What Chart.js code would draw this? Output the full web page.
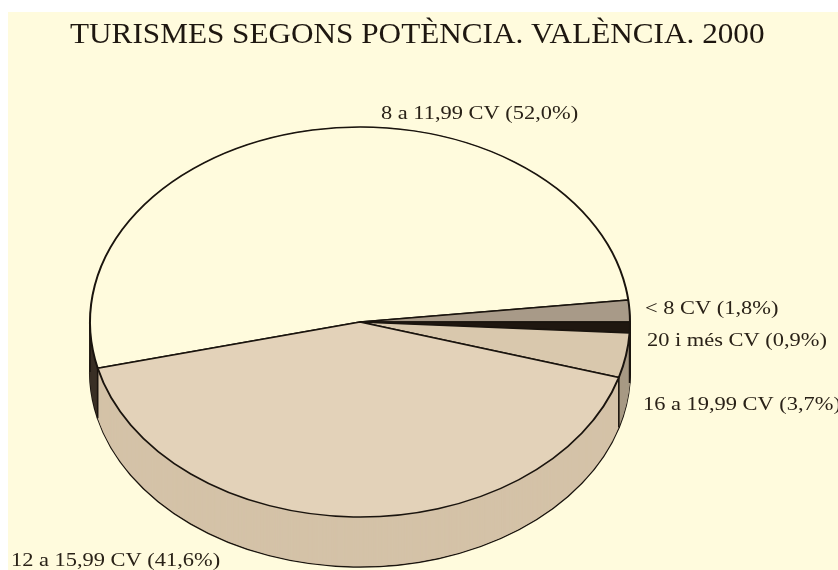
<!DOCTYPE html>
<html><head><meta charset="utf-8">
<style>
html,body{margin:0;padding:0;background:#fff;}
#wrap{position:absolute;left:8px;top:12px;width:830px;height:558px;background:#fffbdd;overflow:hidden;}
#wrap canvas{display:block;filter:blur(0.6px);}
</style>
<script src="https://cdn.jsdelivr.net/npm/chart.js@4"></script>
</head><body>
<div id="wrap"><canvas id="c" width="830" height="558"></canvas></div>
<script>
const titleText = 'TURISMES SEGONS POTÈNCIA. VALÈNCIA. 2000';
const categories = ['8 a 11,99 CV (52,0%)','< 8 CV (1,8%)','20 i més CV (0,9%)','16 a 19,99 CV (3,7%)','12 a 15,99 CV (41,6%)'];
const values = [52.0,1.8,0.9,3.7,41.6];
const topColors = ['#fffbdd','#a89a88','#1f1710','#d9c8ad','#e3d2b9'];
const sideColors = ['#3a3026','#8d8070','#1a130c','#a89a84','#d4c2a8'];
const ANGLE_START = -103.7;
const YSCALE = 195/270;
const DEPTH = 50;
const OX = 8, OY = 12;
const INK = '#1a140e';
const labelPos = [[381,119],[645,314],[647,346],[643,410],[11,566]];

function stretched(ctx,text,x,y,sx){
  ctx.save();
  ctx.translate(x,y);ctx.scale(sx,1);
  ctx.fillText(text,0,0);
  ctx.restore();
}
const pie3d = {
  id:'pie3d',
  beforeDatasetsDraw(chart){
    const ctx = chart.ctx, arcs = chart.getDatasetMeta(0).data;
    const {x:cx,y:cy} = arcs[0];
    const r = arcs[0].outerRadius;
    ctx.save();
    ctx.translate(cx,cy); ctx.scale(1,YSCALE); ctx.translate(-cx,-cy);
    const step = 1/YSCALE;
    for(let d=DEPTH;d>=0;d--){
      ctx.save();
      ctx.translate(0,d*step);
      arcs.forEach((a,i)=>{
        const o=a.options, bc=o.borderColor, bw=o.borderWidth, bg=o.backgroundColor;
        o.backgroundColor=sideColors[i];
        o.borderColor=(d===DEPTH)?INK:sideColors[i];
        o.borderWidth=(d===DEPTH)?2:0.6;
        a.draw(ctx);
        o.backgroundColor=bg;o.borderColor=bc;o.borderWidth=bw;
      });
      ctx.restore();
    }
    ctx.restore();
    ctx.save();
    ctx.strokeStyle=INK;ctx.lineWidth=1.6;
    const xs=[[cx-r,cy],[cx+r,cy]];
    arcs.forEach(a=>{
      const s=Math.sin(a.endAngle);
      if(s>0) xs.push([cx+r*Math.cos(a.endAngle),cy+r*s*YSCALE]);
    });
    xs.forEach(([x,y])=>{ctx.beginPath();ctx.moveTo(x,y);ctx.lineTo(x,y+DEPTH);ctx.stroke();});
    ctx.restore();
    ctx.save();
    ctx.translate(cx,cy); ctx.scale(1,YSCALE); ctx.translate(-cx,-cy);
  },
  afterDatasetsDraw(chart){
    const ctx = chart.ctx;
    ctx.restore();
    ctx.save();
    ctx.textBaseline='alphabetic';
    ctx.fillStyle='#1e1710';
    ctx.font='30px "Liberation Serif"';
    stretched(ctx,titleText,70-OX,43-OY,1.04);
    ctx.fillStyle='#2a2218';
    ctx.font='18px "Liberation Serif"';
    categories.forEach((t,i)=>stretched(ctx,t,labelPos[i][0]-OX,labelPos[i][1]-OY,1.245));
    ctx.restore();
  }
};
new Chart(document.getElementById('c'),{
  type:'pie',
  data:{labels:categories,datasets:[{data:values,backgroundColor:topColors,borderColor:INK,borderWidth:2,hoverOffset:0}]},
  options:{
    responsive:false,animation:false,
    rotation:ANGLE_START,
    radius:270,
    layout:{padding:{top:62,right:126,bottom:0,left:0}},
    plugins:{legend:{display:false},tooltip:{enabled:false},title:{display:false}}
  },
  plugins:[pie3d]
});
</script>
</body></html>
